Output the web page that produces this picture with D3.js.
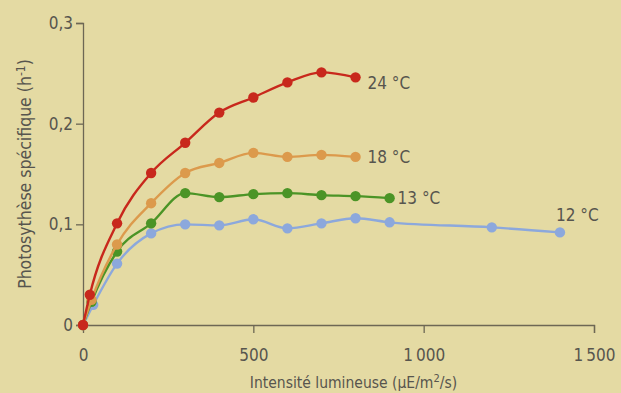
<!DOCTYPE html>
<html>
<head>
<meta charset="utf-8">
<script src="https://cdn.jsdelivr.net/npm/d3@7"></script>
<style>
  html, body { margin: 0; padding: 0; background: #e4daa3; }
  svg { display: block; }
  text { font-family: "Liberation Sans Narrow", "DejaVu Sans Condensed", "Roboto", sans-serif; fill: #57554e; }
</style>
</head>
<body>
<div id="chart"></div>
<script>
// data (light intensity in uE/m2/s, photosynthesis in h-1)
const series = ["24 °C", "18 °C", "13 °C", "12 °C"];
const x24 = [0, 20, 100, 200, 300, 400, 500, 600, 700, 800];
const y24 = [0, 0.030, 0.101, 0.151, 0.181, 0.211, 0.226, 0.241, 0.251, 0.246];
const x18 = [0, 25, 100, 200, 300, 400, 500, 600, 700, 800];
const y18 = [0, 0.025, 0.080, 0.121, 0.151, 0.161, 0.171, 0.167, 0.169, 0.167];
const x13 = [0, 25, 100, 200, 300, 400, 500, 600, 700, 800, 900];
const y13 = [0, 0.023, 0.073, 0.101, 0.131, 0.127, 0.130, 0.131, 0.129, 0.128, 0.126];
const x12 = [0, 30, 100, 200, 300, 400, 500, 600, 700, 800, 900, 1200, 1400];
const y12 = [0, 0.020, 0.061, 0.091, 0.100, 0.099, 0.105, 0.096, 0.101, 0.106, 0.102, 0.097, 0.092];
const xTicks = [0, 500, 1000, 1500];
const yTicks = [0, 0.1, 0.2, 0.3];

const W = 621, H = 393;
const margin = {top: 23, right: 27, bottom: 68, left: 83};
const width = W - margin.left - margin.right,
      height = H - margin.top - margin.bottom;

const colors = ["#c8281c", "#dc9a4c", "#4b9426", "#8ca8dc"];
// label offsets from the last point of each curve
const labelOffset = [[12, 6], [12, 0], [8, 0], [-4, -17]];

const svg = d3.select("#chart")
  .append("svg")
    .attr("width", W)
    .attr("height", H)
  .append("g")
    .attr("transform", `translate(${margin.left},${margin.top})`);

const x = d3.scaleLinear().domain([0, 1500]).range([0, width]);
const y = d3.scaleLinear().domain([0, 0.3]).range([height, 0]);

const fmtY = d => d === 0 ? "0" : d3.format(".1f")(d).replace(".", ",");
const fmtX = d => d3.format(",")(d).replace(",", "\u2009");

// axes
const xAxis = svg.append("g")
  .attr("transform", `translate(0,${height})`)
  .call(d3.axisBottom(x).tickValues(xTicks).tickSize(8).tickPadding(16).tickFormat(fmtX));
const yAxis = svg.append("g")
  .call(d3.axisLeft(y).tickValues(yTicks).tickSize(7).tickPadding(3).tickFormat(fmtY));

[xAxis, yAxis].forEach(a => {
  a.select(".domain").attr("stroke", "#6d6754").attr("stroke-width", 1.3);
  a.selectAll(".tick line").attr("stroke", "#6d6754").attr("stroke-width", 1.3);
  a.selectAll(".tick text").style("font-size", "17px").attr("fill", "#57554e");
});
xAxis.selectAll(".tick").filter(d => d === 0).select("line").remove();

// lines
const xs = [x24, x18, x13, x12], ys = [y24, y18, y13, y12];
const line = d3.line()
  .x(d => x(d[0]))
  .y(d => y(d[1]))
  .curve(d3.curveMonotoneX);

// draw from the back (12 °C) to the front (24 °C)
d3.range(series.length).reverse().forEach(i => {
  const pts = xs[i].map((v, k) => [v, ys[i][k]]);
  const g = svg.append("g");
  g.append("path")
    .datum(pts)
    .attr("fill", "none")
    .attr("stroke", colors[i])
    .attr("stroke-width", 2.4)
    .attr("d", line);
  g.selectAll("circle")
    .data(pts)
    .join("circle")
      .attr("cx", d => x(d[0]))
      .attr("cy", d => y(d[1]))
      .attr("r", 5.2)
      .attr("fill", colors[i]);
  const last = pts[pts.length - 1];
  g.append("text")
    .attr("x", x(last[0]) + labelOffset[i][0])
    .attr("y", y(last[1]) + labelOffset[i][1])
    .attr("dy", "0.35em")
    .style("font-size", "17px")
    .text(series[i]);
});

// axis titles
svg.append("text")
  .attr("x", width / 2 + 15)
  .attr("y", height + 63)
  .attr("text-anchor", "middle")
  .style("font-size", "15.5px")
  .html('Intensité lumineuse (µE/m<tspan dy="-6" font-size="11">2</tspan><tspan dy="6">/s)</tspan>');

svg.append("text")
  .attr("transform", `translate(${-52},${height / 2}) rotate(-90)`)
  .attr("text-anchor", "middle")
  .style("font-size", "17.5px")
  .html('Photosythèse spécifique (h<tspan dy="-6" font-size="12">-1</tspan><tspan dy="6">)</tspan>');
</script>
</body>
</html>
